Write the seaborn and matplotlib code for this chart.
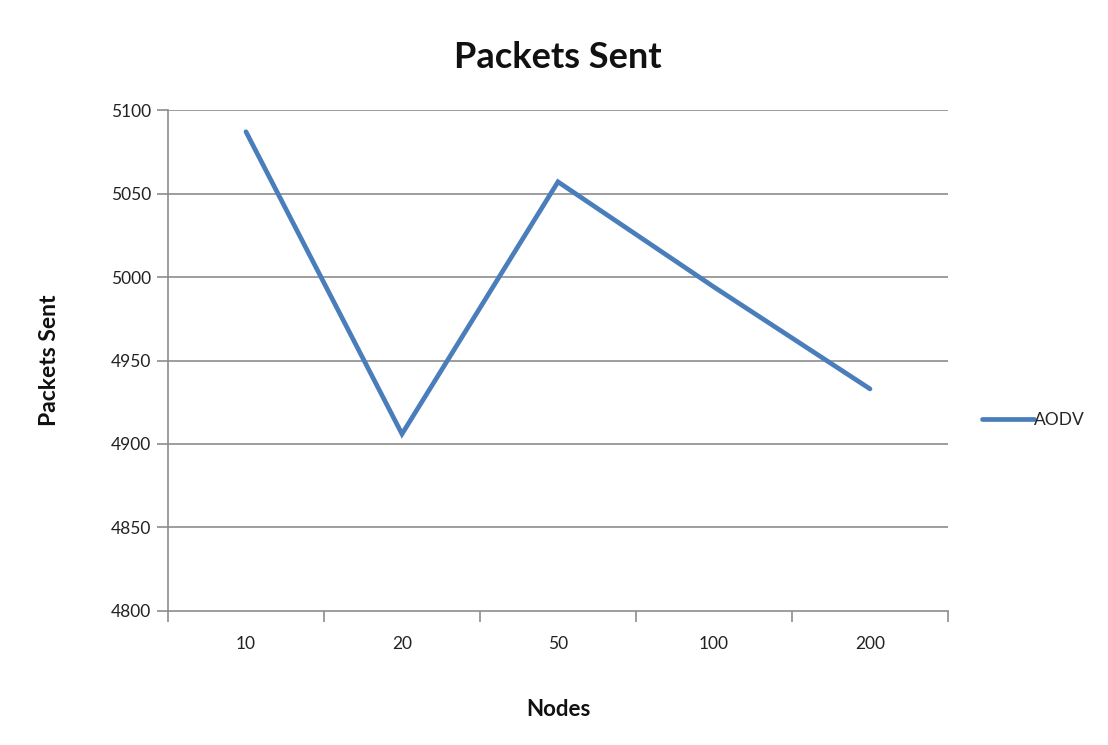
import numpy as np
import pandas as pd
import matplotlib
matplotlib.use("Agg")
import matplotlib.pyplot as plt
import seaborn as sns

# Packets sent by AODV for each network size
nodes = ["10", "20", "50", "100", "200"]
aodv_sent = [5087, 4906, 5057, 4994, 4933]
y_ticks = [4800, 4850, 4900, 4950, 5000, 5050, 5100]

sns.set_theme(style="white")
plt.rcParams["font.family"] = ["Lato", "DejaVu Sans"]

df = pd.DataFrame({"pos": np.arange(len(nodes)), "Nodes": nodes, "AODV": aodv_sent})

fig = plt.figure(figsize=(11.08, 7.45), dpi=100)
ax = fig.add_axes([0.1516, 0.1799, 0.704, 0.6724])

grid_c = "#8c8c8c"
for v in y_ticks[1:]:
    ax.axhline(v, color=grid_c, lw=1.2, zorder=0)

sns.lineplot(data=df, x="pos", y="AODV", ax=ax, color="#4a7ebb", lw=3.4,
             label="AODV", solid_capstyle="round", solid_joinstyle="miter")

ax.set_xlim(-0.5, len(nodes) - 0.5)
ax.set_ylim(y_ticks[0], y_ticks[-1])
ax.set_yticks(y_ticks)
ax.set_xticks(df["pos"])
ax.set_xticklabels(nodes)
ax.set_xticks(np.arange(len(nodes) + 1) - 0.5, minor=True)
ax.tick_params(axis="x", which="major", bottom=True, length=0, pad=18, labelsize=12.5,
               labelcolor="#222222")
ax.tick_params(axis="x", which="minor", bottom=True, length=8, width=1.2, color=grid_c,
               direction="out")
ax.tick_params(axis="y", left=True, length=8, width=1.2, color=grid_c, direction="out",
               labelsize=12.5, labelcolor="#222222", pad=4)

for s in ["top", "right"]:
    ax.spines[s].set_visible(False)
for s in ["left", "bottom"]:
    ax.spines[s].set_color(grid_c)
    ax.spines[s].set_linewidth(1.2)

ax.set_title("Packets Sent", fontsize=26, fontweight="bold", pad=30, color="#111111")
ax.set_xlabel("Nodes", fontsize=16, fontweight="bold", labelpad=34, color="#111111")
ax.set_ylabel("Packets Sent", fontsize=16.5, fontweight="bold", labelpad=37, color="#111111")

leg = ax.legend(loc="center left", bbox_to_anchor=(1.035, 0.381), frameon=False,
                fontsize=12.5, handlelength=3.0, handletextpad=0.0, borderaxespad=0)
for line in leg.get_lines():
    line.set_linewidth(3.4)

fig.savefig("out.png", dpi=100, facecolor="white")
